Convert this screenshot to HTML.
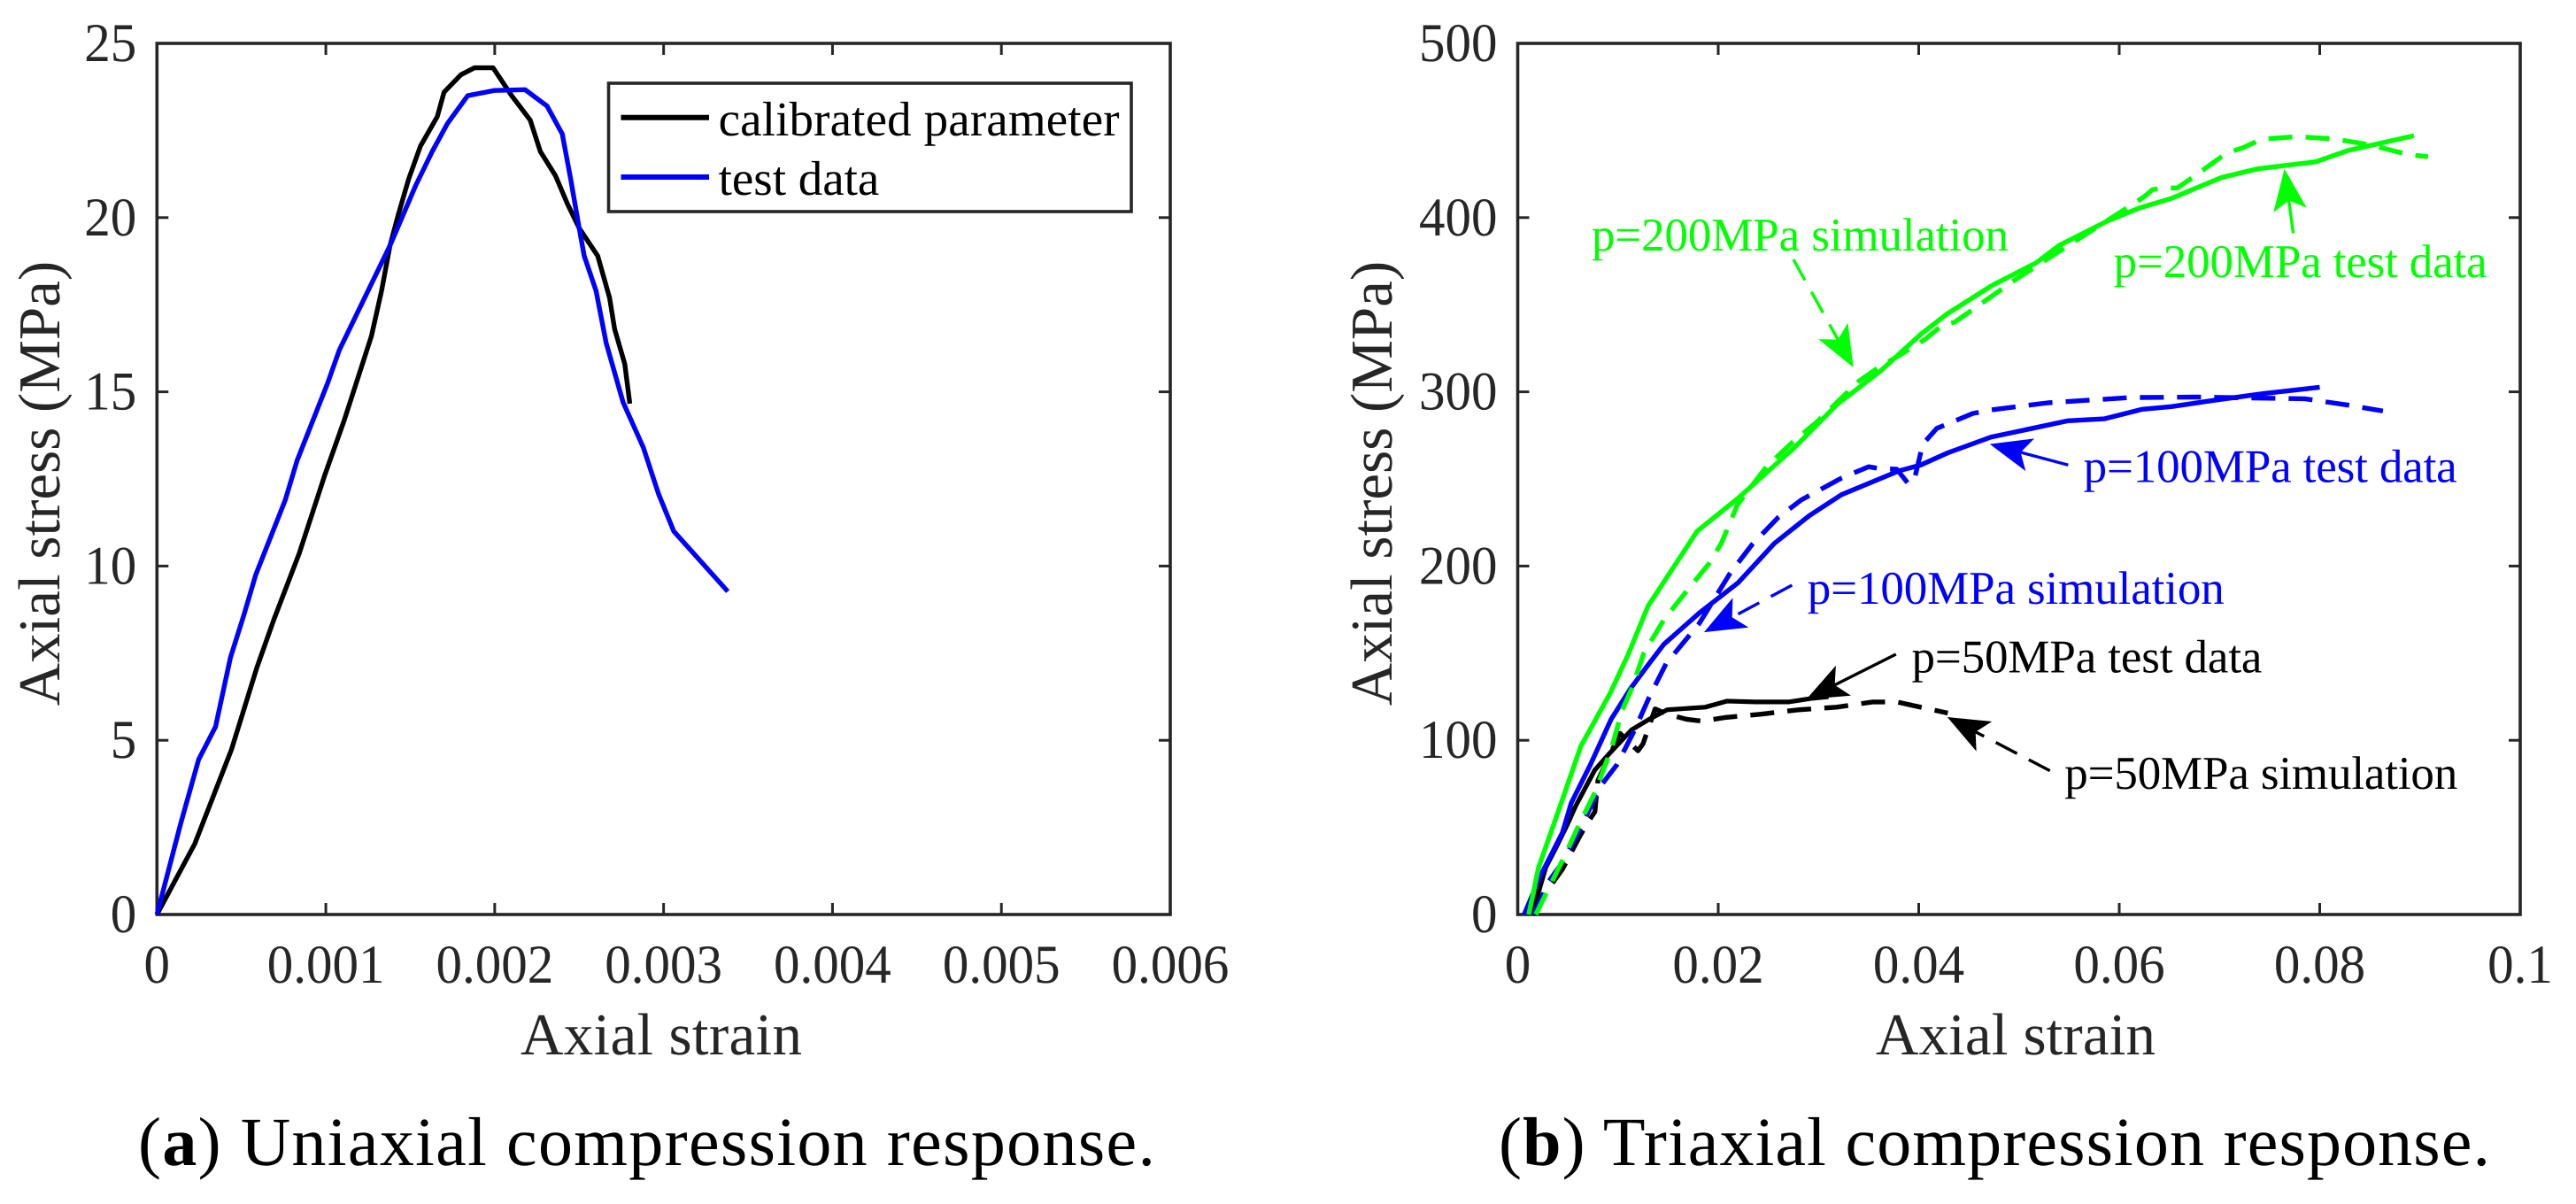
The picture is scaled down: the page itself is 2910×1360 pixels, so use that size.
<!DOCTYPE html>
<html lang="en">
<head>
<meta charset="utf-8">
<title>Uniaxial and triaxial compression response</title>
<style>
html,body{margin:0;padding:0;background:#fff;width:2910px;height:1360px;overflow:hidden}
svg{display:block}
text{font-family:"Liberation Serif",serif;text-rendering:geometricPrecision}
</style>
</head>
<body>
<svg id="fig" xmlns="http://www.w3.org/2000/svg" width="2910" height="1360" viewBox="0 0 2910 1360"></svg>
<script>
// ---- Panel (a) data: [axial strain, axial stress MPa] ----
const calibratedParameter = [[0,0],[.000224,2.03],[.000441,4.73],[.000592,7.09],[.000692,8.46],[.000843,10.37],[.000993,12.6],[.00111,14.2],[.00121,15.7],[.00127,16.6],[.00133,17.9],[.00138,19.2],[.00143,20.1],[.00149,21.1],[.00156,22.05],[.00166,22.9],[.0017,23.6],[.0018,24.1],[.00188,24.3],[.00199,24.3],[.0021,23.5],[.00221,22.8],[.00227,21.9],[.00236,21.2],[.00243,20.4],[.0025,19.7],[.00261,18.9],[.00268,17.7],[.00271,16.8],[.00277,15.8],[.0028,14.66]];
const uniaxialTestData = [[0,0],[.00014,2.6],[.000247,4.45],[.000347,5.39],[.000435,7.37],[.000515,8.6],[.000585,9.75],[.00076,11.9],[.00083,13.03],[.00101,15.24],[.00108,16.2],[.00121,17.5],[.00138,19.2],[.00153,20.9],[.00163,21.9],[.00172,22.7],[.00184,23.5],[.002,23.65],[.00218,23.67],[.00231,23.2],[.0024,22.4],[.00245,21.1],[.0025,19.7],[.00253,18.9],[.0026,17.9],[.00266,16.4],[.00276,14.7],[.00288,13.4],[.00297,12.07],[.00306,11.0],[.00338,9.27]];
const xTicksA = [0,0.001,0.002,0.003,0.004,0.005,0.006];
const yTicksA = [0,5,10,15,20,25];

// ---- Panel (b) data: [axial strain, axial stress MPa] ----
const test50 = [[.0015,1.5],[.0028,27],[.0037,37],[.0049,51],[.0058,62.5],[.0077,83],[.009,91.5],[.01136,106],[.0131,112],[.0149,117.5],[.0187,119],[.0209,122.5],[.0237,122],[.027,122],[.0293,124],[.031,125]];
const sim50 = [[.0015,0],[.0031,15],[.00446,26],[.0062,45],[.0069,52],[.0077,59],[.008,77],[.0102,104],[.012,94],[.0125,98],[.0137,118],[.0149,115],[.0169,112],[.0184,111],[.0206,113],[.0243,115],[.028,117.5],[.0318,119],[.0354,122],[.0378,122],[.0429,115.6]];
const test100 = [[.00064,0],[.00225,22],[.00446,47],[.00534,64],[.00725,86],[.00931,112],[.01123,129.5],[.0131,144],[.01456,155],[.0181,173],[.022,190.5],[.0256,213],[.0291,229],[.0323,241],[.038,254.6],[.0402,258],[.0429,265],[.0472,274],[.0549,283.4],[.0585,284.5],[.0623,290],[.0652,291.5],[.0693,295],[.0744,299],[.08,302.6]];
const sim100 = [[.0016,0],[.0031,19],[.00446,30],[.0062,49],[.0078,68],[.00843,75],[.0099,86],[.01167,106],[.0131,124.5],[.0148,144],[.0181,167],[.0212,196],[.0234,212.5],[.026,228],[.0283,238],[.0323,250.5],[.035,257],[.036,256],[.0378,255.6],[.039,247],[.0396,250.5],[.0404,270],[.0418,279],[.0454,287.6],[.0472,289.6],[.0529,293.7],[.061,296.7],[.0677,297],[.0785,296],[.0826,292.6],[.0863,289]];
const test200 = [[.0011,0],[.00208,27],[.00416,61],[.00629,96.5],[.00922,127],[.011,149],[.013,177],[.0179,220],[.022,239],[.0276,268],[.0319,293],[.0362,312],[.0402,333],[.0429,345],[.0473,361],[.0517,374],[.054,384],[.0588,398],[.062,405.5],[.0652,411],[.0702,423],[.0738,428],[.0796,432],[.0828,438.5],[.0894,447]];
const sim200 = [[.0018,0],[.0028,11.7],[.00446,31],[.00607,51],[.0077,70],[.009,90],[.00944,97],[.0104,117],[.0114,130],[.01258,150],[.01456,169],[.0169,186],[.0191,201.5],[.0203,213],[.021,222.5],[.0219,235],[.0248,257],[.0274,271],[.0299,283],[.034,306],[.036,314],[.0378,320],[.0406,330],[.0423,338],[.0436,340],[.0487,360.6],[.0498,365],[.056,388],[.0609,406],[.0625,412],[.0633,416],[.0644,417],[.0658,417],[.0678,425],[.0707,437],[.0723,440],[.0742,445],[.0778,446.5],[.0816,445],[.0848,442],[.089,436],[.0908,435]];
const xTicksB = [0,0.02,0.04,0.06,0.08,0.1];
const yTicksB = [0,100,200,300,400,500];

// ---- Panel (b) annotation anchors, in data units ----
const annotationLabels = ["p=200MPa simulation","p=200MPa test data","p=100MPa test data","p=100MPa simulation","p=50MPa test data","p=50MPa simulation"];
const annotationColors = ["#00ff00","#00ff00","#0000ff","#0000ff","#000000","#000000"];
const annotationDashed = [true,false,false,true,false,true];
const annotationLabelAt = [[.00737,381.1],[.05944,365.9],[.05644,248.1],[.0289,178.4],[.03929,138.9],[.05455,72.2]];
const annotationTail = [[.0275,376],[.07736,391],[.05491,258],[.02736,189],[.03773,149.4],[.05309,82.5]];
const annotationTip = [[.03348,314],[.07648,428],[.04709,270],[.01858,162],[.02878,123.5],[.04285,113.3]];
const annotationWidths = [471,422,422,471,396,444];

const NS = "http://www.w3.org/2000/svg";
const svg = document.getElementById("fig");
const AXIS = "#262626";

function make(tag, attrs, parent){
  const el = document.createElementNS(NS, tag);
  for (const k in attrs) el.setAttribute(k, attrs[k]);
  (parent || svg).appendChild(el);
  return el;
}
function linScale(d0, d1, r0, r1){
  return function(v){ return r0 + (v - d0) / (d1 - d0) * (r1 - r0); };
}
function pathFrom(points, sx, sy){
  return points.map(function(p, i){
    return (i ? "L" : "M") + sx(p[0]).toFixed(2) + " " + sy(p[1]).toFixed(2);
  }).join(" ");
}
// tick digits in the reference are slightly taller than they are wide
function tallText(x, y){
  return "translate(" + x.toFixed(2) + " " + y.toFixed(2) + ") scale(1 1.05)";
}

function drawAxes(prefix, L, R, T, B, sx, sy, xTicks, yTicks, yLabelX, xLabelCx, xLabelW){
  const g = make("g", {});
  
  
  const box = make("rect", {x:L, y:T, width:R-L, height:B-T, fill:"none", stroke:AXIS, "stroke-width":3.6}, g);
  
  
  xTicks.forEach(function(v){
    const x = sx(v);
    const t1 = make("line", {x1:x, x2:x, y1:B, y2:B-13, stroke:AXIS, "stroke-width":3}, g);
    
    
    const t2 = make("line", {x1:x, x2:x, y1:T, y2:T+13, stroke:AXIS, "stroke-width":3}, g);
    
    
    const lab = make("text", {x:0, y:0, transform:tallText(x, 1110), "font-size":59, fill:AXIS, "text-anchor":"middle"}, g);
    
    
    lab.textContent = String(v);
  });
  yTicks.forEach(function(v){
    const y = sy(v);
    const t1 = make("line", {x1:L, x2:L+13, y1:y, y2:y, stroke:AXIS, "stroke-width":3}, g);
    
    
    const t2 = make("line", {x1:R, x2:R-13, y1:y, y2:y, stroke:AXIS, "stroke-width":3}, g);
    
    
    const lab = make("text", {x:0, y:0, transform:tallText(L-23, y+20), "font-size":59, fill:AXIS, "text-anchor":"end"}, g);
    
    
    lab.textContent = String(v);
  });
  const xt = make("text", {x:xLabelCx, y:1191, "font-size":67, fill:AXIS, "text-anchor":"middle", textLength:xLabelW}, g);
  
  
  xt.textContent = "Axial strain";
  const yt = make("text", {x:0, y:0, "font-size":67, fill:AXIS, "text-anchor":"middle", transform:"translate(" + yLabelX + " 546) rotate(-90)"}, g);
  
  
  yt.textContent = "Axial stress (MPa)";
}

// ---- Panel (a) ----
const sxA = linScale(0, 0.006, 177.3, 1322);
const syA = linScale(0, 25, 1033, 49);
drawAxes("uniaxial", 177.3, 1322, 49, 1033, sxA, syA, xTicksA, yTicksA, 67, 747, 318);

const calLine = make("path", {d:pathFrom(calibratedParameter, sxA, syA), fill:"none", stroke:"#000", "stroke-width":5.4, "stroke-linejoin":"round"});


const uniLine = make("path", {d:pathFrom(uniaxialTestData, sxA, syA), fill:"none", stroke:"#0000ff", "stroke-width":5.4, "stroke-linejoin":"round"});



const legend = make("g", {});


const legendBox = make("rect", {x:687.5, y:94, width:590.5, height:145, fill:"#fff", stroke:AXIS, "stroke-width":3.6}, legend);


const legendLine1 = make("line", {x1:701.5, x2:801, y1:132.7, y2:132.7, stroke:"#000", "stroke-width":6}, legend);


const legendText1 = make("text", {x:811.6, y:153, "font-size":55, fill:"#000", textLength:453}, legend);


legendText1.textContent = "calibrated parameter";
const legendLine2 = make("line", {x1:701.5, x2:801, y1:200, y2:200, stroke:"#0000ff", "stroke-width":6}, legend);


const legendText2 = make("text", {x:811.6, y:220, "font-size":55, fill:"#000"}, legend);


legendText2.textContent = "test data";

// ---- Panel (b) ----
const sxB = linScale(0, 0.1, 1714.5, 2847);
const syB = linScale(0, 500, 1033, 49);
drawAxes("triaxial", 1714.5, 2847, 49, 1033, sxB, syB, xTicksB, yTicksB, 1572, 2277, 316);

const DASH = "27 15";
const s50t = make("path", {d:pathFrom(test50, sxB, syB), fill:"none", stroke:"#000", "stroke-width":5.2, "stroke-linejoin":"round"});


const s50s = make("path", {d:pathFrom(sim50, sxB, syB), fill:"none", stroke:"#000", "stroke-width":5.4, "stroke-dasharray":DASH, "stroke-linejoin":"round"});


const s100t = make("path", {d:pathFrom(test100, sxB, syB), fill:"none", stroke:"#0000ff", "stroke-width":5.4, "stroke-linejoin":"round"});


const s100s = make("path", {d:pathFrom(sim100, sxB, syB), fill:"none", stroke:"#0000ff", "stroke-width":5.4, "stroke-dasharray":DASH, "stroke-linejoin":"round"});


const s200t = make("path", {d:pathFrom(test200, sxB, syB), fill:"none", stroke:"#00ff00", "stroke-width":5.4, "stroke-linejoin":"round"});


const s200s = make("path", {d:pathFrom(sim200, sxB, syB), fill:"none", stroke:"#00ff00", "stroke-width":5.4, "stroke-dasharray":DASH, "stroke-linejoin":"round"});



// annotations
annotationLabels.forEach(function(label, i){
  const color = annotationColors[i];
  const tx = sxB(annotationTail[i][0]), ty = syB(annotationTail[i][1]);
  const hx = sxB(annotationTip[i][0]), hy = syB(annotationTip[i][1]);
  const len = Math.hypot(hx - tx, hy - ty);
  const ux = (hx - tx) / len, uy = (hy - ty) / len;
  const nx = -uy, ny = ux;
  const headLen = 47, headHalf = 19, notch = 36;
  const bx = hx - ux * headLen, by = hy - uy * headLen;
  const mx = hx - ux * notch, my = hy - uy * notch;
  const shaft = make("line", {x1:tx, y1:ty, x2:mx, y2:my, stroke:color, "stroke-width":3.4});
  if (annotationDashed[i]) shaft.setAttribute("stroke-dasharray", "27 15");
  
  
  const head = make("polygon", {
    points: [hx, hy, bx + nx * headHalf, by + ny * headHalf, mx, my, bx - nx * headHalf, by - ny * headHalf].map(function(n){ return n.toFixed(2); }).join(" "),
    fill: color
  });
  
  
  const text = make("text", {x:sxB(annotationLabelAt[i][0]), y:syB(annotationLabelAt[i][1]), "font-size":53, fill:color, textLength:annotationWidths[i]});
  
  
  text.textContent = label;
});

// captions
const capA = make("text", {x:156, y:1316, "font-size":78, fill:"#000", textLength:1149});


capA.appendChild(document.createTextNode("("));
const capABold = make("tspan", {"font-weight":"bold"}, capA);
capABold.textContent = "a";
capA.appendChild(document.createTextNode(") Uniaxial compression response."));

const capB = make("text", {x:1693, y:1316, "font-size":78, fill:"#000", textLength:1120});


capB.appendChild(document.createTextNode("("));
const capBBold = make("tspan", {"font-weight":"bold"}, capB);
capBBold.textContent = "b";
capB.appendChild(document.createTextNode(") Triaxial compression response."));
</script>
</body>
</html>
